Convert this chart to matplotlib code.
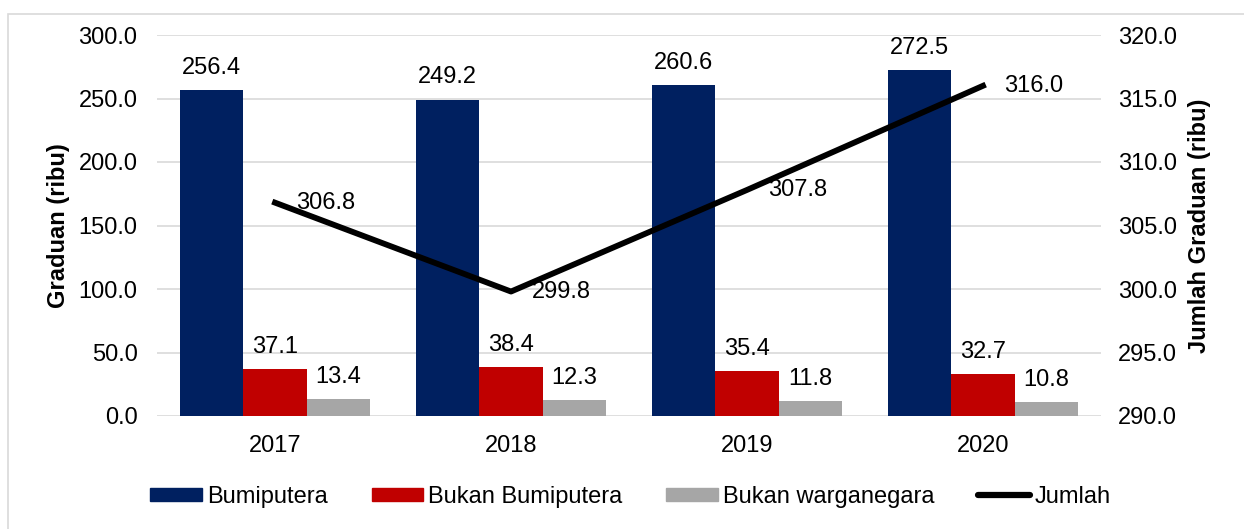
import matplotlib.pyplot as plt
from matplotlib.patches import Rectangle
from matplotlib.lines import Line2D
import numpy as np

plt.rcParams['font.family'] = ['Liberation Sans', 'DejaVu Sans']

years = ['2017', '2018', '2019', '2020']
bumiputera = [256.4, 249.2, 260.6, 272.5]
bukan_bumi = [37.1, 38.4, 35.4, 32.7]
bukan_warga = [13.4, 12.3, 11.8, 10.8]
jumlah = [306.8, 299.8, 307.8, 316.0]

c_blue = '#002060'
c_red = '#C00000'
c_grey = '#A6A6A6'
fs = 17

fig = plt.figure(figsize=(12.44, 5.29), dpi=100)
fig.patches.append(Rectangle((8/1244, -0.01), 1.0, 1 - 14/529 + 0.01,
                             transform=fig.transFigure, fill=False,
                             edgecolor='#D9D9D9', linewidth=1.2))
ax = fig.add_axes([157/1244, 1 - 416/529, 944/1244, 381/529])
ax2 = ax.twinx()

x = np.arange(len(years))
w = 0.268
b1 = ax.bar(x - w, bumiputera, w, color=c_blue, zorder=3)
b2 = ax.bar(x, bukan_bumi, w, color=c_red, zorder=3)
b3 = ax.bar(x + w, bukan_warga, w, color=c_grey, zorder=3)

for bars, vals in [(b1, bumiputera), (b2, bukan_bumi), (b3, bukan_warga)]:
    for r, v in zip(bars, vals):
        ax.annotate(f'{v:.1f}', (r.get_x() + r.get_width() / 2, v),
                    xytext=(0, 8), textcoords='offset points',
                    ha='center', va='bottom', fontsize=fs)

ax.set_xlim(-0.5, 3.5)
ax.set_ylim(0, 300)
ax.set_yticks(np.arange(0, 301, 50))
ax.set_yticklabels([f'{t:.1f}' for t in np.arange(0, 301, 50)])
ax.set_xticks(x)
ax.set_xticklabels(years)
ax.grid(axis='y', color='#D9D9D9', linewidth=1.2, zorder=0)
ax.tick_params(length=0, labelsize=fs, pad=14)
ax.tick_params(axis='x', pad=14)
for s in ax.spines.values():
    s.set_visible(False)
ax.set_ylabel('Graduan (ribu)', fontsize=fs, fontweight='bold', labelpad=6)

ax2.plot(x, jumlah, color='black', linewidth=4.2, zorder=4)
for xi, v in zip(x, jumlah):
    ax2.annotate(f'{v:.1f}', (xi, v), xytext=(15, 0), textcoords='offset points',
                 ha='left', va='center', fontsize=fs)
ax2.set_ylim(290, 320)
ax2.set_yticks(np.arange(290, 321, 5))
ax2.set_yticklabels([f'{t:.1f}' for t in np.arange(290, 321, 5)])
ax2.tick_params(length=0, labelsize=fs, pad=12)
for s in ax2.spines.values():
    s.set_visible(False)
ax2.set_ylabel('Jumlah Graduan (ribu)', fontsize=fs, fontweight='bold', labelpad=8)

handles = [Rectangle((0, 0), 1, 1, color=c_blue),
           Rectangle((0, 0), 1, 1, color=c_red),
           Rectangle((0, 0), 1, 1, color=c_grey),
           Line2D([0], [0], color='black', linewidth=4.5, solid_capstyle='round')]
labels = ['Bumiputera', 'Bukan Bumiputera', 'Bukan warganegara', 'Jumlah']
fig.legend(handles, labels, loc='center', bbox_to_anchor=(0.507, 1 - 497/529),
           ncol=4, frameon=False, fontsize=fs, handlelength=2.2,
           handleheight=0.5, handletextpad=0.2, columnspacing=1.86)

fig.savefig('out.png', dpi=100)
